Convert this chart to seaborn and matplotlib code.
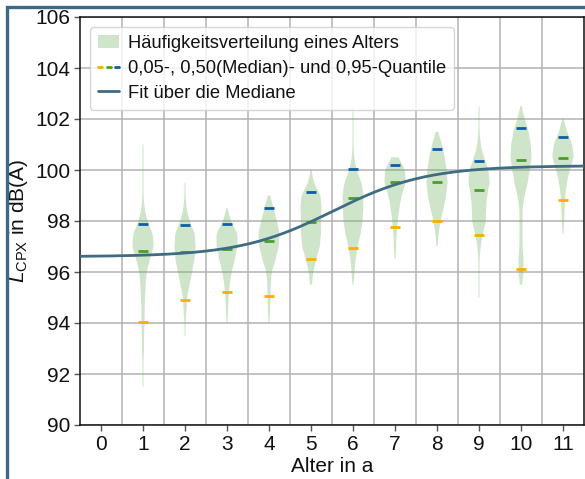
import numpy as np
import pandas as pd
import matplotlib
matplotlib.use("Agg")
import matplotlib.pyplot as plt
from matplotlib.lines import Line2D
from matplotlib.patches import Patch
from matplotlib.legend_handler import HandlerTuple
import seaborn as sns

# ---------------- data ----------------
AGES = [1, 2, 3, 4, 5, 6, 7, 8, 9, 10, 11]
XTICKS = [0, 1, 2, 3, 4, 5, 6, 7, 8, 9, 10, 11]
YTICKS = [90, 92, 94, 96, 98, 100, 102, 104, 106]

# level grid (dB(A)) and estimated frequency counts per age
LEVELS = [91.5, 92.0, 92.5, 93.0, 93.5, 94.0, 94.5, 95.0, 95.5, 96.0, 96.5, 97.0,
          97.5, 98.0, 98.5, 99.0, 99.5, 100.0, 100.5, 101.0, 101.5, 102.0, 102.5, 103.0]
cnt_age1 = [1, 1, 1, 2, 2, 3, 3, 4, 5, 7, 13, 21, 19, 8, 3, 1, 1, 1, 1, 1, 0, 0, 0, 0]
cnt_age2 = [0, 0, 0, 0, 1, 1, 3, 4, 9, 14, 19, 21, 20, 9, 3, 1, 1, 0, 0, 0, 0, 0, 0, 0]
cnt_age3 = [0, 0, 0, 0, 0, 1, 2, 3, 5, 9, 15, 20, 21, 7, 1, 0, 0, 0, 0, 0, 0, 0, 0, 0]
cnt_age4 = [0, 0, 0, 0, 0, 1, 2, 3, 3, 5, 13, 19, 21, 15, 9, 2, 0, 0, 0, 0, 0, 0, 0, 0]
cnt_age5 = [0, 0, 0, 0, 0, 0, 0, 0, 2, 4, 10, 17, 19, 19, 20, 19, 5, 1, 0, 0, 0, 0, 0, 0]
cnt_age6 = [0, 0, 0, 0, 0, 0, 0, 0, 1, 3, 5, 9, 15, 19, 20, 21, 17, 7, 2, 1, 1, 1, 1, 0]
cnt_age7 = [0, 0, 0, 0, 0, 0, 0, 0, 0, 0, 1, 2, 3, 5, 8, 12, 20, 19, 6, 0, 0, 0, 0, 0]
cnt_age8 = [0, 0, 0, 0, 0, 0, 0, 0, 0, 0, 0, 1, 3, 7, 13, 18, 21, 19, 15, 10, 2, 0, 0, 0]
cnt_age9 = [0, 0, 0, 0, 0, 0, 0, 1, 1, 1, 1, 3, 7, 13, 13, 15, 20, 18, 9, 3, 1, 1, 1, 0]
cnt_age10 = [0, 0, 0, 0, 0, 0, 0, 0, 2, 5, 5, 3, 3, 3, 3, 7, 13, 17, 21, 19, 15, 7, 1, 0]
cnt_age11 = [0, 0, 0, 0, 0, 0, 0, 0, 0, 0, 0, 0, 1, 2, 3, 4, 7, 12, 20, 17, 7, 1, 0, 0]
COUNTS = [cnt_age1, cnt_age2, cnt_age3, cnt_age4, cnt_age5, cnt_age6,
          cnt_age7, cnt_age8, cnt_age9, cnt_age10, cnt_age11]

q05 = [94.03, 94.90, 95.23, 95.06, 96.51, 96.94, 97.78, 98.01, 97.46, 96.10, 98.84]
q50 = [96.84, 96.80, 96.90, 97.20, 97.97, 98.89, 99.54, 99.52, 99.23, 100.38, 100.48]
q95 = [97.87, 97.84, 97.88, 98.52, 99.13, 100.05, 100.21, 100.81, 100.35, 101.63, 101.29]

# logistic fit over the medians (parameters)
FIT_LOW, FIT_HIGH, FIT_K, FIT_X0 = 96.60, 100.17, 0.90, 5.52

# ---------------- styling ----------------
sns.set_theme(style="whitegrid")
plt.rcParams["font.family"] = ["Liberation Sans", "DejaVu Sans"]
plt.rcParams["mathtext.fontset"] = "custom"
plt.rcParams["mathtext.rm"] = "Liberation Sans"
plt.rcParams["mathtext.it"] = "Liberation Sans:italic"

C_VIOLIN = (0.42, 0.70, 0.36, 0.33)
C_Q05 = "#f7b000"
C_Q50 = "#4b9e2a"
C_Q95 = "#0d5ea6"
C_FIT = "#3f6b83"
C_FRAME = "#3d6a83"

rows = []
for age, cnts in zip(AGES, COUNTS):
    for lev, c in zip(LEVELS, cnts):
        rows.extend([(age, lev)] * c)
df = pd.DataFrame(rows, columns=["Alter", "L"])

fig = plt.figure(figsize=(5.85, 4.79), dpi=100)
ax = fig.add_axes([80 / 585, 1 - 425 / 479, 504 / 585, 408 / 479])
ax.set_facecolor("white")

sns.violinplot(data=df, x="Alter", y="L", native_scale=True, ax=ax,
               color=C_VIOLIN, saturation=1, inner=None, linewidth=0,
               width=0.5, density_norm="width", cut=0,
               bw_method=lambda k: 0.26 / np.std(k.dataset), gridsize=200)
for coll in ax.collections:
    coll.set_facecolor(C_VIOLIN)
    coll.set_edgecolor("none")

ages = np.array(AGES, dtype=float)
hw = 0.13
ax.hlines(q05, ages - hw, ages + hw, color=C_Q05, lw=2, zorder=4)
ax.hlines(q50, ages - hw, ages + hw, color=C_Q50, lw=2, zorder=4)
ax.hlines(q95, ages - hw, ages + hw, color=C_Q95, lw=2, zorder=4)

xf = np.linspace(-0.5, 11.5, 300)
yf = FIT_LOW + (FIT_HIGH - FIT_LOW) / (1 + np.exp(-FIT_K * (xf - FIT_X0)))
sns.lineplot(x=xf, y=yf, ax=ax, color=C_FIT, lw=2, zorder=5)

ax.set_xlim(-0.5, 11.5)
ax.set_ylim(90, 106)
ax.set_xticks(XTICKS)
ax.set_xticklabels([str(t) for t in XTICKS])
ax.set_xticks([t + 0.5 for t in XTICKS[:-1]], minor=True)
ax.set_yticks(YTICKS)
ax.set_yticklabels([str(t) for t in YTICKS])

ax.grid(False)
ax.grid(True, which="major", axis="y", color="#b3b3b3", lw=1.1)
ax.grid(True, which="minor", axis="x", color="#b3b3b3", lw=1.1)
ax.set_axisbelow(True)
ax.tick_params(axis="both", which="major", labelsize=15, length=4, width=1,
               color="#555555", direction="out", pad=3, bottom=True, left=True,
               labelcolor="#111111")
ax.tick_params(axis="x", which="minor", length=0)
for s in ax.spines.values():
    s.set_color("#111111")
    s.set_linewidth(1.1)
    s.set_visible(True)

ax.set_xlabel("Alter in a", fontsize=15, color="#111111", labelpad=2)
ax.set_ylabel(r"$L_\mathrm{CPX}$ in dB(A)", fontsize=15, color="#111111", labelpad=4)

h_patch = Patch(facecolor=C_VIOLIN, edgecolor="none")
h_q = (Line2D([], [], color=C_Q05, lw=2), Line2D([], [], color=C_Q50, lw=2),
       Line2D([], [], color=C_Q95, lw=2))
h_fit = Line2D([], [], color=C_FIT, lw=2)
leg = ax.legend([h_patch, h_q, h_fit],
                ["Häufigkeitsverteilung eines Alters",
                 "0,05-, 0,50(Median)- und 0,95-Quantile",
                 "Fit über die Mediane"],
                handler_map={tuple: HandlerTuple(ndivide=None, pad=0.25)},
                loc="upper left", fontsize=13.2, handlelength=1.15,
                handletextpad=0.45, labelspacing=0.42, borderpad=0.45,
                frameon=True, fancybox=True, framealpha=0.8,
                bbox_to_anchor=(0.0, 1.0), borderaxespad=0.55)
leg.get_frame().set_edgecolor("#cccccc")
leg.get_frame().set_facecolor("white")
for t in leg.get_texts():
    t.set_color("#111111")

# figure frame (left and top)
fig.add_artist(Line2D([7 / 585, 7 / 585, 1.0], [0.0, 1 - 7 / 479, 1 - 7 / 479],
                      transform=fig.transFigure, color=C_FRAME, lw=2.4,
                      solid_joinstyle="miter"))

fig.savefig("out.png", dpi=100, facecolor="white")
